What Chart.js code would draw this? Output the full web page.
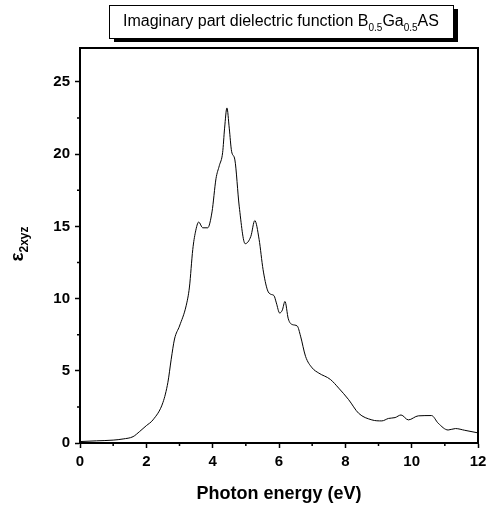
<!DOCTYPE html>
<html>
<head>
<meta charset="utf-8">
<script src="https://cdn.jsdelivr.net/npm/chart.js@4/dist/chart.umd.min.js"></script>
<style>
    html, body { margin: 0; padding: 0; background: #fff; }
    #wrap { width: 492px; height: 506px; position: relative; }
</style>
</head>
<body>
<div id="wrap"><canvas id="grafico"></canvas></div>
<script>
// Imaginary part of the dielectric function
const energia = [0, 0.5, 1.0, 1.3, 1.6, 1.8, 2.0, 2.2, 2.5, 2.65, 2.75, 2.85, 3.0, 3.2, 3.3, 3.4, 3.48, 3.58, 3.7, 3.85,
    3.98, 4.1, 4.2, 4.3, 4.36, 4.43, 4.5, 4.57, 4.67, 4.8, 4.98, 5.15, 5.27, 5.4, 5.52, 5.65, 5.75, 5.85, 5.92, 6.02,
    6.1, 6.18, 6.28, 6.4, 6.55, 6.65, 6.8, 7.0, 7.2, 7.55, 7.8, 8.1, 8.4, 8.8, 9.1, 9.3, 9.5, 9.68, 9.9, 10.2,
    10.6, 10.8, 11.1, 11.32, 11.6, 12];
const eps2 = [0.1, 0.15, 0.2, 0.28, 0.44, 0.8, 1.2, 1.6, 2.8, 4.2, 5.8, 7.2, 8.1, 9.5, 10.8, 13.4, 14.6, 15.3, 14.9, 14.9,
    16.0, 18.3, 19.2, 20.1, 21.8, 23.2, 21.8, 20.2, 19.6, 16.4, 13.8, 14.3, 15.4, 14.1, 12.0, 10.6, 10.3, 10.2, 9.7, 9.0,
    9.2, 9.8, 8.6, 8.2, 8.1, 7.4, 6.0, 5.2, 4.84, 4.4, 3.8, 3.0, 2.06, 1.6, 1.53, 1.7, 1.76, 1.94, 1.6, 1.88,
    1.9, 1.37, 0.9, 1.0, 0.88, 0.7];
const ticksX = [0, 2, 4, 6, 8, 10, 12];
const ticksY = [0, 5, 10, 15, 20, 25];

const FONTE = '"Liberation Sans", Arial, sans-serif';

// frame, minor ticks, axis titles and the title box
const extras = {
    id: 'extras',
    afterDraw(chart) {
        const { ctx, chartArea: a, scales } = chart;
        ctx.save();
        ctx.strokeStyle = '#000';
        ctx.lineWidth = 2;
        ctx.strokeRect(a.left, a.top, a.right - a.left, a.bottom - a.top);

        // minor ticks
        ctx.lineWidth = 1.5;
        ctx.beginPath();
        for (let v = 1; v < 12; v += 2) {
            const px = scales.x.getPixelForValue(v);
            ctx.moveTo(px, a.bottom); ctx.lineTo(px, a.bottom + 3);
        }
        for (let v = 2.5; v < 27.5; v += 5) {
            const py = scales.y.getPixelForValue(v);
            ctx.moveTo(a.left, py); ctx.lineTo(a.left - 3, py);
        }
        ctx.stroke();

        // x title
        ctx.fillStyle = '#000';
        ctx.textAlign = 'center';
        ctx.textBaseline = 'middle';
        ctx.font = 'bold 18px ' + FONTE;
        ctx.fillText('Photon energy (eV)', (a.left + a.right) / 2, 494);

        // y title: epsilon with subscript
        ctx.save();
        ctx.translate(18, 244);
        ctx.rotate(-Math.PI / 2);
        ctx.textAlign = 'left';
        ctx.textBaseline = 'alphabetic';
        ctx.font = 'bold 19px ' + FONTE;
        const wEps = ctx.measureText('ε').width;
        ctx.font = 'bold 12px ' + FONTE;
        const wSub = ctx.measureText('2xyz').width;
        const x0 = -(wEps + wSub) / 2;
        ctx.font = 'bold 19px ' + FONTE;
        ctx.fillText('ε', x0, 5);
        ctx.font = 'bold 12px ' + FONTE;
        ctx.fillText('2xyz', x0 + wEps, 10);
        ctx.restore();

        // title box with shadow
        const bx = 109, by = 5, bw = 344, bh = 33;
        ctx.fillStyle = '#000';
        ctx.fillRect(bx + 5, by + 4, bw, bh);
        ctx.fillStyle = '#fff';
        ctx.fillRect(bx, by, bw, bh);
        ctx.lineWidth = 1;
        ctx.strokeRect(bx + 0.5, by + 0.5, bw, bh);

        const partes = [
            ['Imaginary part dielectric function B', 16, 0],
            ['0.5', 10, 5],
            ['Ga', 16, 0],
            ['0.5', 10, 5],
            ['AS', 16, 0]
        ];
        let largura = 0;
        partes.forEach(p => { ctx.font = p[1] + 'px ' + FONTE; largura += ctx.measureText(p[0]).width; });
        let cx = bx + bw / 2 - largura / 2;
        ctx.fillStyle = '#000';
        ctx.textAlign = 'left';
        ctx.textBaseline = 'alphabetic';
        partes.forEach(p => {
            ctx.font = p[1] + 'px ' + FONTE;
            ctx.fillText(p[0], cx, 26 + p[2]);
            cx += ctx.measureText(p[0]).width;
        });
        ctx.restore();
    }
};

const ctx = document.getElementById('grafico').getContext('2d');
new Chart(ctx, {
    type: 'scatter',
    data: {
        datasets: [{
            data: energia.map((e, i) => ({ x: e, y: eps2[i] })),
            showLine: true,
            borderColor: '#000',
            borderWidth: 1,
            pointRadius: 0,
            cubicInterpolationMode: 'monotone'
        }]
    },
    options: {
        responsive: true,
        maintainAspectRatio: false,
        animation: false,
        layout: { padding: { top: 48, right: 14, left: 0, bottom: 0 } },
        plugins: { legend: { display: false }, tooltip: { enabled: false } },
        scales: {
            x: {
                type: 'linear',
                min: 0, max: 12,
                afterFit: s => { s.height = 63; },
                afterBuildTicks: s => { s.ticks = ticksX.map(v => ({ value: v })); },
                grid: { drawOnChartArea: false, tickLength: 5, tickColor: '#000', tickWidth: 1.5 },
                border: { color: '#000', width: 2 },
                ticks: { color: '#000', padding: 5, maxRotation: 0, font: { family: FONTE, size: 15, weight: 'bold' } }
            },
            y: {
                type: 'linear',
                min: 0, max: 27.35,
                afterFit: s => { s.width = 80; },
                afterBuildTicks: s => { s.ticks = ticksY.map(v => ({ value: v })); },
                grid: { drawOnChartArea: false, tickLength: 5, tickColor: '#000', tickWidth: 1.5 },
                border: { color: '#000', width: 2 },
                ticks: { color: '#000', padding: 5, font: { family: FONTE, size: 15, weight: 'bold' } }
            }
        }
    },
    plugins: [extras]
});
</script>
</body>
</html>
